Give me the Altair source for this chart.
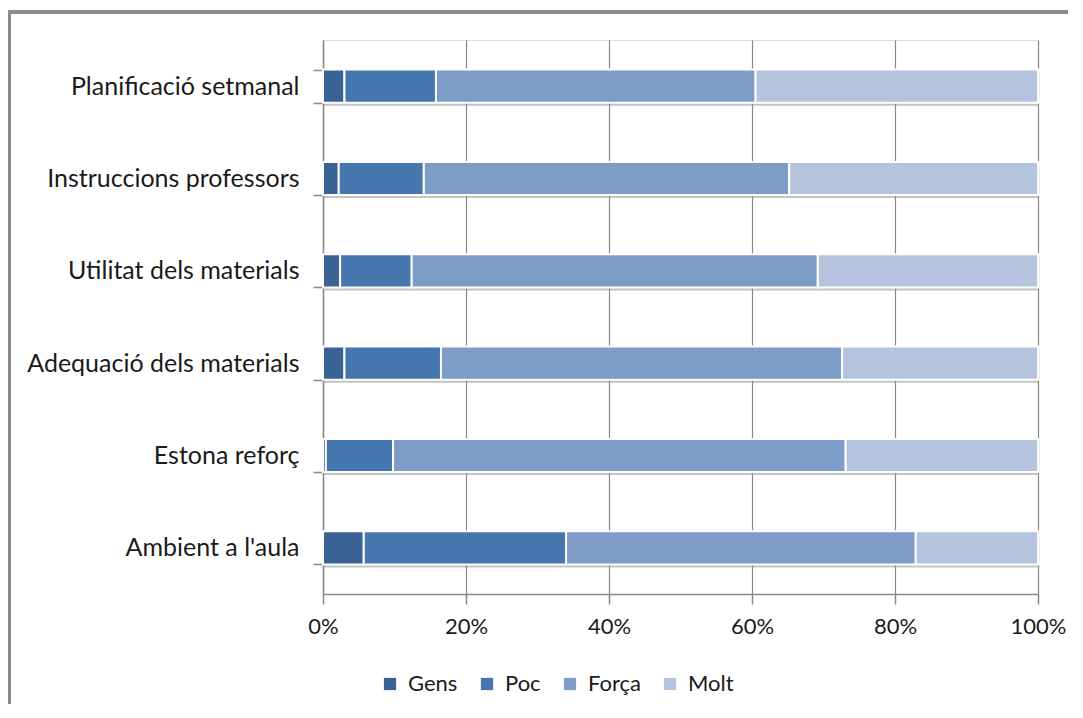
import altair as alt
import pandas as pd

categories = ["Planificació setmanal", "Instruccions professors", "Utilitat dels materials",
              "Adequació dels materials", "Estona reforç", "Ambient a l'aula"]
series = ["Gens", "Poc", "Força", "Molt"]
gens = [3.0, 2.2, 2.4, 3.0, 0.4, 5.7]
poc = [12.8, 11.9, 10.0, 13.5, 9.4, 28.3]
forca = [44.7, 51.1, 56.8, 56.1, 63.3, 48.9]
molt = [39.5, 34.8, 30.8, 27.4, 26.9, 17.1]
colors = ["#3B6294", "#4676AE", "#7E9CC8", "#B4C4DF"]

rows = []
for s_i, (name, vals) in enumerate(zip(series, [gens, poc, forca, molt])):
    for cat, v in zip(categories, vals):
        rows.append({"cat": cat, "series": name, "value": v, "ord": s_i})
df = pd.DataFrame(rows)

FONT = "Lato"
W, H = 715, 554

yenc = alt.Y("cat:N", sort=categories, title=None,
             scale=alt.Scale(paddingInner=0.64, paddingOuter=0.32),
             axis=alt.Axis(tickBand="extent", tickSize=10, domainColor="#8a8a8a",
                           tickColor="#8a8a8a", domainWidth=1.5, tickWidth=1.5,
                           labelFont=FONT, labelFontSize=25, labelColor="#1a1a1a",
                           labelPadding=14, labelLimit=0, grid=False))

shadow = alt.Chart(df).mark_bar(color="#8a8a8a", opacity=0.5, yOffset=3).encode(
    x=alt.X("sum(value):Q", stack="normalize"),
    y=alt.Y("cat:N", sort=categories, scale=alt.Scale(paddingInner=0.64, paddingOuter=0.32)),
    order=alt.Order("ord:Q"),
)

bars = alt.Chart(df).mark_bar(stroke="white", strokeWidth=2).encode(
    x=alt.X("sum(value):Q", stack="normalize", title=None,
            scale=alt.Scale(domain=[0, 1]),
            axis=alt.Axis(format="%", values=[0, 0.2, 0.4, 0.6, 0.8, 1.0],
                          tickSize=10, domainColor="#8a8a8a", tickColor="#8a8a8a",
                          domainWidth=1.5, tickWidth=1.5,
                          gridColor="#888888", gridWidth=1.2,
                          labelFont=FONT, labelFontSize=22, labelColor="#1a1a1a",
                          labelPadding=12, labelFlush=False)),
    y=yenc,
    color=alt.Color("series:N", sort=series,
                    scale=alt.Scale(domain=series, range=colors),
                    legend=alt.Legend(orient="none", legendX=56, legendY=633,
                                      direction="horizontal", title=None,
                                      symbolType="square", symbolSize=150,
                                      symbolStrokeWidth=0,
                                      labelFont=FONT, labelFontSize=22,
                                      labelColor="#1a1a1a", labelOffset=7,
                                      columnPadding=18)),
    order=alt.Order("ord:Q"),
)

frame_left = alt.Chart(df).mark_rule(color="#8c8c8c", strokeWidth=2.5).encode(
    x=alt.value(-314), y=alt.value(-28), y2=alt.value(720))
frame_top = alt.Chart(df).mark_rule(color="#8c8c8c", strokeWidth=2.5).encode(
    x=alt.value(-315), x2=alt.value(800), y=alt.value(-28))

chart = alt.layer(shadow, bars, frame_left, frame_top).properties(
    width=W, height=H,
    autosize=alt.AutoSizeParams(type="none"),
    padding={"left": 315, "top": 32, "right": 30, "bottom": 110},
).configure_view(stroke=None).configure(background="white")

chart.save("out.html", embed_options={"renderer": "svg", "actions": False})
